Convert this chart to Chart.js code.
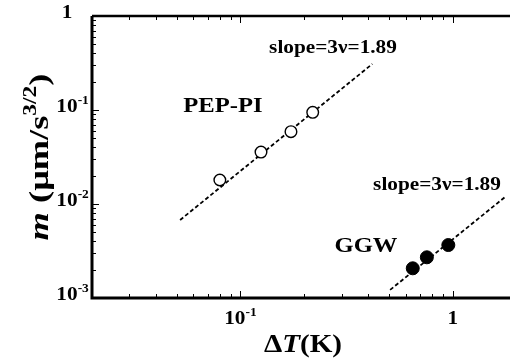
<!DOCTYPE html>
<html>
<head>
<meta charset="utf-8">
<script src="https://cdn.jsdelivr.net/npm/chart.js@4/dist/chart.umd.min.js"></script>
<style>
  html, body { margin: 0; padding: 0; background: #fff; overflow: hidden; }
  canvas { display: block; }
</style>
</head>
<body>
<canvas id="grafico" width="510" height="358"></canvas>
<script>
// datos (escala log-log)
const pepT = [0.080, 0.125, 0.173, 0.219];
const pepM = [0.0180, 0.0357, 0.0588, 0.0945];
const ggwT = [0.648, 0.755, 0.953];
const ggwM = [0.00207, 0.00271, 0.00366];

// rectas de ajuste (extremos)
const pepFitT = [0.052, 0.418];
const pepFitM = [0.00676, 0.309];
const ggwFitT = [0.507, 1.763];
const ggwFitM = [0.00122, 0.01187];

// ejes (el borde derecho queda fuera de la imagen)
const xMin = 0.02, xMax = 1.86;
const yMin = 0.001, yMax = 1;
const xTickVals = [0.1, 1];
const xTickLabels = [['10', '-1'], ['1', '']];
const yTickVals = [1, 0.1, 0.01, 0.001];
const yTickLabels = [['1', ''], ['10', '-1'], ['10', '-2'], ['10', '-3']];

const SERIF = '"Liberation Serif", "Times New Roman", serif';
const SX = 1.12; // el texto original esta algo estirado

function pares(xs, ys) {
    return xs.map((x, i) => ({ x: x, y: ys[i] }));
}

// dibuja trozos de texto seguidos (para superindices y cursivas)
function dibujarTrozos(ctx, trozos, x, y, align, sx) {
    let total = 0;
    trozos.forEach(t => {
        ctx.font = t.font;
        t.w = ctx.measureText(t.t).width * sx;
        total += t.w;
    });
    let cx = x;
    if (align === 'center') cx = x - total / 2;
    if (align === 'right') cx = x - total;
    trozos.forEach(t => {
        ctx.save();
        ctx.font = t.font;
        ctx.translate(cx, y + (t.dy || 0));
        ctx.scale(sx, 1);
        ctx.fillText(t.t, 0, 0);
        ctx.restore();
        cx += t.w;
    });
}

function marcasMenores(min, max) {
    const vals = [];
    for (let d = Math.floor(Math.log10(min)); d <= Math.ceil(Math.log10(max)); d++) {
        for (let k = 1; k <= 9; k++) {
            const v = k * Math.pow(10, d);
            if (v >= min * 0.999 && v <= max * 1.001) vals.push({ v: v, mayor: k === 1 });
        }
    }
    return vals;
}

const marcoPlugin = {
    id: 'marco',
    afterDatasetsDraw(chart) {
        const ctx = chart.ctx;
        const ca = chart.chartArea;
        const sx = chart.scales.x, sy = chart.scales.y;
        ctx.save();
        ctx.strokeStyle = '#000';
        ctx.fillStyle = '#000';

        // marcas hacia dentro
        ctx.lineWidth = 1;
        marcasMenores(xMin, xMax).forEach(m => {
            const px = Math.round(sx.getPixelForValue(m.v)) + 0.5;
            const len = m.mayor ? 7 : 4;
            ctx.beginPath();
            ctx.moveTo(px, ca.bottom); ctx.lineTo(px, ca.bottom - len);
            ctx.moveTo(px, ca.top); ctx.lineTo(px, ca.top + len);
            ctx.stroke();
        });
        marcasMenores(yMin, yMax).forEach(m => {
            const py = Math.round(sy.getPixelForValue(m.v)) + 0.5;
            const len = m.mayor ? 7 : 4;
            ctx.beginPath();
            ctx.moveTo(ca.left, py); ctx.lineTo(ca.left + len, py);
            ctx.stroke();
        });

        // marco (izquierda, abajo, arriba)
        ctx.lineWidth = 3;
        ctx.beginPath();
        ctx.moveTo(ca.left, ca.top);
        ctx.lineTo(ca.left, ca.bottom);
        ctx.lineTo(ca.right + 5, ca.bottom);
        ctx.stroke();
        ctx.lineWidth = 2.5;
        ctx.beginPath();
        ctx.moveTo(ca.left, ca.top);
        ctx.lineTo(ca.right + 5, ca.top);
        ctx.stroke();

        // etiquetas de los ejes
        ctx.textBaseline = 'alphabetic';
        const fBase = 'bold 19px ' + SERIF;
        const fSup = 'bold 12px ' + SERIF;
        xTickVals.forEach((v, i) => {
            const px = sx.getPixelForValue(v);
            dibujarTrozos(ctx, [
                { t: xTickLabels[i][0], font: fBase },
                { t: xTickLabels[i][1], font: fSup, dy: -8 }
            ], px, 324, 'center', SX);
        });
        yTickVals.forEach((v, i) => {
            const py = sy.getPixelForValue(v);
            ctx.font = fBase;
            const wb = ctx.measureText(yTickLabels[i][0]).width * SX;
            dibujarTrozos(ctx, [
                { t: yTickLabels[i][0], font: fBase },
                { t: yTickLabels[i][1], font: fSup, dy: -8 }
            ], 67 - wb / 2, py + 2, 'left', SX);
        });

        // titulo eje x
        dibujarTrozos(ctx, [
            { t: '\u0394', font: 'bold 26px ' + SERIF },
            { t: 'T', font: 'italic bold 26px ' + SERIF },
            { t: '(K)', font: 'bold 26px ' + SERIF }
        ], 303, 352, 'center', SX);

        // titulo eje y (girado)
        ctx.save();
        ctx.translate(48, 157);
        ctx.rotate(-Math.PI / 2);
        dibujarTrozos(ctx, [
            { t: 'm', font: 'italic bold 28px ' + SERIF },
            { t: ' (\u03bcm/s', font: 'bold 28px ' + SERIF },
            { t: '3/2', font: 'bold 18px ' + SERIF, dy: -12 },
            { t: ')', font: 'bold 28px ' + SERIF }
        ], 0, 0, 'center', 1.3);
        ctx.restore();

        // anotaciones
        dibujarTrozos(ctx, [{ t: 'slope=3\u03bd=1.89', font: 'bold 19px ' + SERIF }], 333, 53, 'center', SX);
        dibujarTrozos(ctx, [{ t: 'slope=3\u03bd=1.89', font: 'bold 19px ' + SERIF }], 437, 190, 'center', SX);
        dibujarTrozos(ctx, [{ t: 'PEP-PI', font: 'bold 22px ' + SERIF }], 223, 112, 'center', SX);
        dibujarTrozos(ctx, [{ t: 'GGW', font: 'bold 22px ' + SERIF }], 366, 252, 'center', SX);

        ctx.restore();
    }
};

const ctx = document.getElementById('grafico');

new Chart(ctx, {
    type: 'scatter',
    data: {
        datasets: [
            {
                label: 'PEP-PI ajuste',
                data: pares(pepFitT, pepFitM),
                showLine: true,
                borderColor: '#000',
                borderWidth: 1.8,
                borderDash: [4, 2.5],
                pointRadius: 0,
                order: 3
            },
            {
                label: 'GGW ajuste',
                data: pares(ggwFitT, ggwFitM),
                showLine: true,
                borderColor: '#000',
                borderWidth: 1.8,
                borderDash: [4, 2.5],
                pointRadius: 0,
                order: 3
            },
            {
                label: 'PEP-PI',
                data: pares(pepT, pepM),
                pointRadius: 5.8,
                pointBackgroundColor: '#fff',
                pointBorderColor: '#000',
                pointBorderWidth: 1.4,
                order: 1
            },
            {
                label: 'GGW',
                data: pares(ggwT, ggwM),
                pointRadius: 6.5,
                pointBackgroundColor: '#000',
                pointBorderColor: '#000',
                pointBorderWidth: 1,
                order: 1
            }
        ]
    },
    options: {
        responsive: false,
        animation: false,
        devicePixelRatio: 1,
        layout: { autoPadding: false, padding: { left: 92, top: 16, right: 0, bottom: 60 } },
        plugins: {
            legend: { display: false },
            tooltip: { enabled: false }
        },
        scales: {
            x: { type: 'logarithmic', bounds: 'data', min: xMin, max: xMax, display: false },
            y: { type: 'logarithmic', bounds: 'data', min: yMin, max: yMax, display: false }
        }
    },
    plugins: [marcoPlugin]
});
</script>
</body>
</html>
